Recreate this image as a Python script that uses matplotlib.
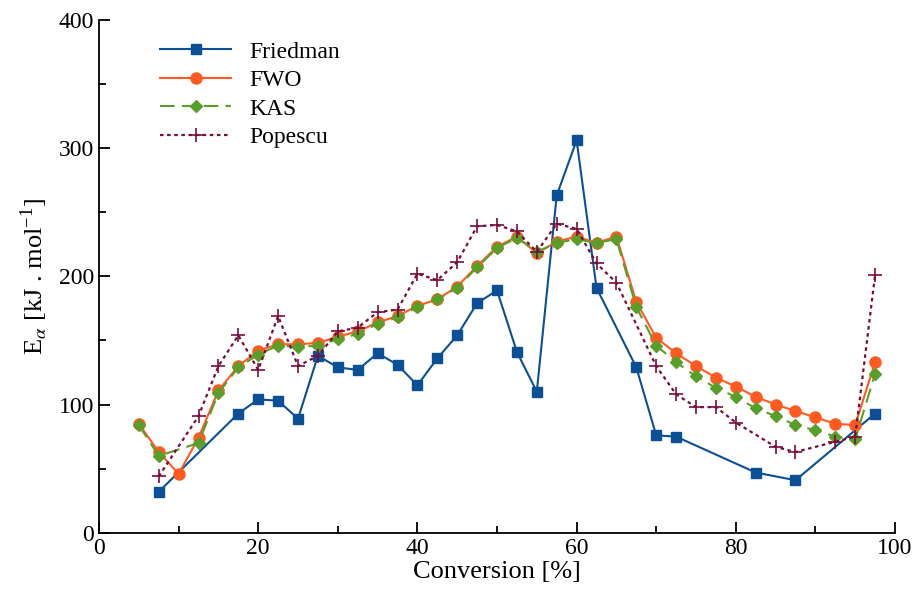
import matplotlib.pyplot as plt
from matplotlib.ticker import MultipleLocator

plt.rcParams['font.family'] = ['Liberation Serif', 'DejaVu Serif']
plt.rcParams['mathtext.fontset'] = 'stix'

# ---- data ----
fr_x = [7.5, 17.5, 20, 22.5, 25, 27.5, 30, 32.5, 35, 37.5, 40, 42.5, 45, 47.5,
        50, 52.5, 55, 57.5, 60, 62.5, 67.5, 70, 72.5, 82.5, 87.5, 97.5]
fr_y = [32, 93, 104, 103, 89, 138, 129, 127, 140, 131, 115, 136, 154, 179,
        189, 141, 110, 263, 306, 191, 129, 76, 75, 47, 41, 93]

fwo_x = [5, 7.5, 10, 12.5, 15, 17.5, 20, 22.5, 25, 27.5, 30, 32.5, 35, 37.5,
         40, 42.5, 45, 47.5, 50, 52.5, 55, 57.5, 60, 62.5, 65, 67.5, 70, 72.5,
         75, 77.5, 80, 82.5, 85, 87.5, 90, 92.5, 95, 97.5]
fwo_y = [85, 63, 46, 74, 111, 130, 142, 147, 147, 148, 153, 157, 164, 169,
         177, 182, 192, 208, 223, 231, 218, 227, 231, 226, 231, 180, 152, 140,
         130, 121, 114, 106, 100, 95, 90, 85, 84, 133]

kas_x = [5, 7.5, 12.5, 15, 17.5, 20, 22.5, 25, 27.5, 30, 32.5, 35, 37.5,
         40, 42.5, 45, 47.5, 50, 52.5, 55, 57.5, 60, 62.5, 65, 67.5, 70, 72.5,
         75, 77.5, 80, 82.5, 85, 87.5, 90, 92.5, 95, 97.5]
kas_y = [84, 60, 70, 109, 129, 139, 146, 145, 146, 151, 155, 163, 168,
         176, 182, 191, 207, 222, 230, 219, 226, 229, 226, 229, 176, 146, 133,
         122, 113, 106, 97, 91, 84, 80, 75, 73, 124]

pop_x = [7.5, 12.5, 15, 17.5, 20, 22.5, 25, 27.5, 30, 32.5, 35, 37.5, 40,
         42.5, 45, 47.5, 50, 52.5, 55, 57.5, 60, 62.5, 65, 70, 72.5, 75, 77.5,
         80, 85, 87.5, 92.5, 95, 97.5]
pop_y = [44, 91, 130, 154, 127, 169, 130, 138, 157, 160, 172, 174, 202,
         197, 211, 239, 240, 235, 219, 241, 237, 210, 195, 130, 108, 98, 98,
         86, 67, 63, 71, 75, 201]

fig = plt.figure(figsize=(9.17, 5.98), dpi=100)
ax = fig.add_axes([0.108, 0.109, 0.868, 0.858])

ax.plot(fr_x, fr_y, '-', color='#0b4f96', lw=1.5, marker='s', ms=7.5,
        label='Friedman')
ax.plot(fwo_x, fwo_y, '-', color='#ff5a1f', lw=1.5, marker='o', ms=8,
        label='FWO')
ax.plot(kas_x, kas_y, '--', color='#5a9e2a', lw=1.5, marker='D', ms=6,
        dashes=(7, 3.5), label='KAS')
ax.plot(pop_x, pop_y, '--', color='#7a0c3c', lw=1.6, marker='+', ms=10,
        mew=1.2, dashes=(1.6, 1.6), label='Popescu')

ax.set_xlim(0, 100)
ax.set_ylim(0, 400)
ax.xaxis.set_major_locator(MultipleLocator(20))
ax.xaxis.set_minor_locator(MultipleLocator(10))
ax.yaxis.set_major_locator(MultipleLocator(100))
ax.yaxis.set_minor_locator(MultipleLocator(50))
ax.tick_params(which='both', direction='in', labelsize=17, width=1.3)
ax.tick_params(which='major', length=8)
ax.tick_params(which='minor', length=5)
ax.spines['top'].set_visible(False)
ax.spines['right'].set_visible(False)
ax.spines['left'].set_linewidth(1.3)
ax.spines['bottom'].set_linewidth(1.3)

ax.set_xlabel('Conversion [%]', fontsize=19, labelpad=2)
ax.set_ylabel(r'E$_{\alpha}$ [kJ . mol$^{\mathregular{-1}}$]', fontsize=19,
              labelpad=6)

ax.legend(loc='upper left', bbox_to_anchor=(0.05, 1.0), frameon=False,
          fontsize=17, handlelength=3, labelspacing=0.3, handletextpad=0.8)

fig.savefig('out.png', dpi=100)
